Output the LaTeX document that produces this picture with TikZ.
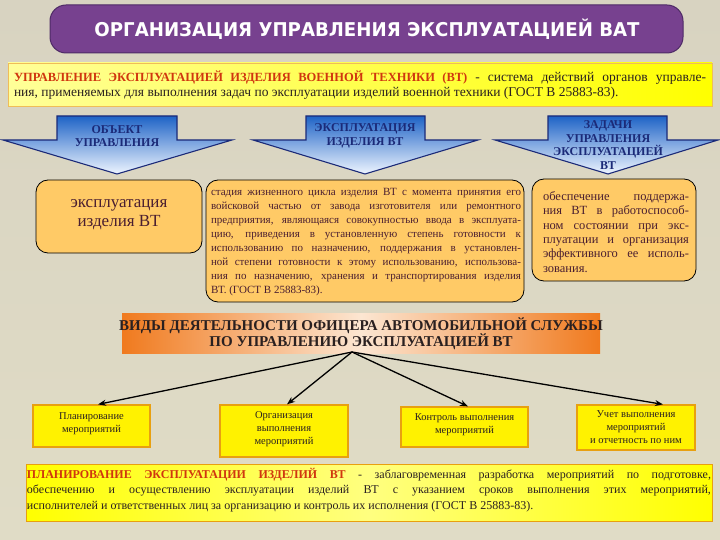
\documentclass[tikz,border=0pt]{standalone}
\usepackage{fontspec}
\setmainfont{Liberation Serif}
\newfontfamily\titlefont{DejaVu Sans}
\usepackage{graphicx}
\usetikzlibrary{arrows.meta}
\definecolor{bg}{HTML}{D8D3C1}
\definecolor{bgbot}{HTML}{E0DCC6}
\definecolor{titlepurple}{HTML}{77418F}
\definecolor{titleborder}{HTML}{4E2A66}
\definecolor{defred}{HTML}{D0360F}
\definecolor{navy}{HTML}{1B2A78}
\definecolor{arrowtop}{HTML}{1E63C6}
\definecolor{arrowbot}{HTML}{EEF5FF}
\definecolor{boxorange}{HTML}{FFCA66}
\definecolor{maroon}{HTML}{4A1E30}
\definecolor{bannerorange}{HTML}{F07A1E}
\definecolor{bannerlight}{HTML}{FCE6D2}
\definecolor{yborder}{HTML}{E8A010}
\definecolor{darktext}{HTML}{2A2020}
\tikzset{
  bluearrow/.style={draw=navy, line width=1.1pt, top color=arrowtop, bottom color=arrowbot},
  arrowtext/.style={text=navy, font=\bfseries\fontsize{12}{13.6}\selectfont, align=center, inner sep=0pt},
  orangebox/.style={draw=black, line width=0.8pt, fill=boxorange, rounded corners=12pt, inner sep=0pt},
  ybox/.style={draw=yborder, line width=1.2pt, fill=yellow, inner sep=0pt},
  ytext/.style={text=darktext, font=\fontsize{10.5}{12.8}\selectfont, align=center, inner sep=0pt},
  conn/.style={-{Stealth[length=8pt,width=6pt]}, line width=1.3pt, black}
}
\begin{document}
\begin{tikzpicture}[x=1pt,y=-1pt]
\useasboundingbox (0,0) rectangle (720,540);
\fill[top color=bg, bottom color=bgbot] (0,0) rectangle (720,540);

% title
\node[draw=titleborder, line width=1pt, fill=titlepurple, rounded corners=16pt,
      minimum width=633pt, minimum height=48pt, inner sep=0pt] (title) at (366.5,29) {};
\node[text=white, inner sep=0pt] (titletext) at (367,29.5)
  {\resizebox{545pt}{\height}{\titlefont\bfseries\fontsize{19}{19}\selectfont ОРГАНИЗАЦИЯ УПРАВЛЕНИЯ ЭКСПЛУАТАЦИЕЙ ВАТ}};

% definition box
\node[draw=yborder!70, line width=0.6pt, left color=yellow!40!white, right color=yellow,
      minimum width=704pt, minimum height=43pt, inner sep=0pt] (defbox) at (360,84.5) {};
\node[text width=692pt, align=justify, inner sep=0pt, text=darktext,
      font=\fontsize{13.5}{15}\selectfont] (deftext) at (360,85.5)
  {{\color{defred}\bfseries\fontsize{12.5}{15}\selectfont УПРАВЛЕНИЕ ЭКСПЛУАТАЦИЕЙ ИЗДЕЛИЯ ВОЕННОЙ ТЕХНИКИ (ВТ)} - система действий органов управле-\linebreak ния, применяемых для выполнения задач по эксплуатации изделий военной техники (ГОСТ В 25883-83).};

% blue arrows
\path[bluearrow] (57,116) -- (177,116) -- (177,140) -- (232,140) -- (117,174) -- (3,140) -- (57,140) -- cycle;
\path[bluearrow] (306,116) -- (425,116) -- (425,140) -- (478,140) -- (365,174) -- (253,140) -- (306,140) -- cycle;
\path[bluearrow] (548,116) -- (667,116) -- (667,140) -- (718,140) -- (608,174) -- (495,140) -- (548,140) -- cycle;
\node[arrowtext] (a1) at (117,136) {ОБЪЕКТ\\УПРАВЛЕНИЯ};
\node[arrowtext] (a2) at (365,136) {ЭКСПЛУАТАЦИЯ\\ИЗДЕЛИЯ ВТ};
\node[arrowtext] (a3) at (608,145) {ЗАДАЧИ\\УПРАВЛЕНИЯ\\ЭКСПЛУАТАЦИЕЙ\\ВТ};

% orange boxes
\node[orangebox, minimum width=166pt, minimum height=73pt] (ob1) at (119,216.5) {};
\node[text=maroon, align=center, inner sep=0pt, font=\fontsize{17}{19}\selectfont] (ob1t) at (119,215) {эксплуатация\\изделия ВТ};

\node[orangebox, minimum width=318pt, minimum height=122pt] (ob2) at (365,241) {};
\node[text=maroon, text width=310pt, align=justify, inner sep=0pt, font=\fontsize{11}{13.9}\selectfont] (ob2t) at (366,242)
 {стадия жизненного цикла изделия ВТ с момента принятия его\linebreak
  войсковой частью от завода изготовителя или ремонтного\linebreak
  предприятия, являющаяся совокупностью ввода в эксплуата-\linebreak
  цию, приведения в установленную степень готовности к\linebreak
  использованию по назначению, поддержания в установлен-\linebreak
  ной степени готовности к этому использованию, использова-\linebreak
  ния по назначению, хранения и транспортирования изделия\linebreak
  ВТ. (ГОСТ В 25883-83).};

\node[orangebox, minimum width=164pt, minimum height=102pt] (ob3) at (614,230) {};
\node[text=maroon, text width=146pt, align=justify, inner sep=0pt, font=\fontsize{12.5}{14.4}\selectfont] (ob3t) at (616,232)
 {обеспечение поддержа-\linebreak
  ния ВТ в работоспособ-\linebreak
  ном состоянии при экс-\linebreak
  плуатации и организация\linebreak
  эффективного ее исполь-\linebreak
  зования.};

% banner
\node[left color=bannerorange, right color=bannerorange, middle color=bannerlight,
      minimum width=478pt, minimum height=40pt, inner sep=0pt] (banner) at (361,333) {};
\node[text=darktext, align=center, inner sep=0pt, font=\bfseries\fontsize{15}{16}\selectfont] (bannertext) at (361,334)
 {ВИДЫ ДЕЯТЕЛЬНОСТИ ОФИЦЕРА АВТОМОБИЛЬНОЙ СЛУЖБЫ\\ПО УПРАВЛЕНИЮ ЭКСПЛУАТАЦИЕЙ ВТ};
\coordinate (src) at (352,352);

% yellow boxes
\node[ybox, minimum width=117pt, minimum height=42pt] (ya) at (91.5,426) {};
\node[ytext] (yat) at (91.5,424) {Планирование\\мероприятий};
\node[ybox, minimum width=128pt, minimum height=52pt] (yb) at (284,431) {};
\node[ytext] (ybt) at (284,429) {Организация\\выполнения\\мероприятий};
\node[ybox, minimum width=127pt, minimum height=40pt] (yc) at (464.5,427) {};
\node[ytext] (yct) at (464.5,425) {Контроль выполнения\\мероприятий};
\node[ybox, minimum width=118pt, minimum height=45pt] (yd) at (636,427.5) {};
\node[ytext] (ydt) at (636,427) {Учет выполнения\\мероприятий\\и отчетность по ним};

\draw[conn] (src) -- ([xshift=6.5pt]ya.north);
\draw[conn] (src) -- ([xshift=3pt]yb.north);
\draw[conn] (src) -- ([xshift=3.5pt]yc.north);
\draw[conn] (src) -- ([xshift=27pt]yd.north);

% bottom definition
\node[draw=yborder, line width=0.8pt, left color=yellow, right color=yellow, middle color=yellow!50!white,
      minimum width=686pt, minimum height=57pt, inner sep=0pt] (botbox) at (369,492.5) {};
\node[text width=684pt, align=justify, inner sep=0pt, text=darktext,
      font=\fontsize{12}{15.5}\selectfont] (bottext) at (369,490)
 {{\color{defred}\bfseries ПЛАНИРОВАНИЕ ЭКСПЛУАТАЦИИ ИЗДЕЛИЙ ВТ} - заблаговременная разработка мероприятий по подготовке,\linebreak
  обеспечению и осуществлению эксплуатации изделий ВТ с указанием сроков выполнения этих мероприятий,\linebreak
  исполнителей и ответственных лиц за организацию и контроль их исполнения (ГОСТ В 25883-83).};
\end{tikzpicture}
\end{document}
